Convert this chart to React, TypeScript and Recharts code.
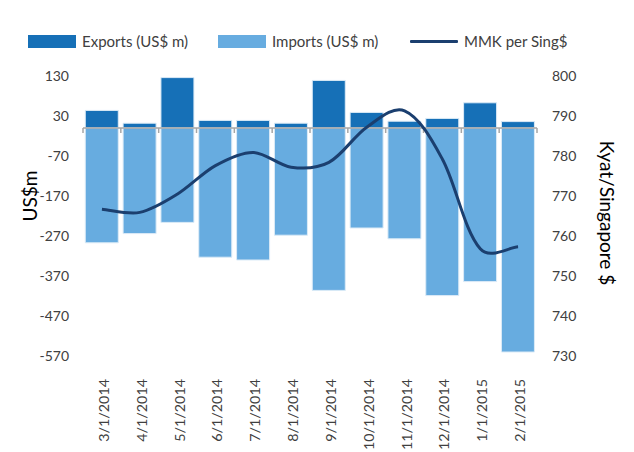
import React from 'react';
import { ComposedChart, Bar, Line, XAxis, YAxis, ReferenceLine } from 'recharts';

const categories = ['3/1/2014', '4/1/2014', '5/1/2014', '6/1/2014', '7/1/2014', '8/1/2014', '9/1/2014', '10/1/2014', '11/1/2014', '12/1/2014', '1/1/2015', '2/1/2015'];
const exportsUS = [44, 12, 126, 19, 19, 12, 119, 39, 17, 24, 63, 16];
const importsUS = [-287, -264, -236, -323, -330, -268, -406, -250, -277, -419, -384, -560];
const mmkPerSgd = [766.7, 765.9, 770.5, 777.6, 780.9, 777.2, 778.4, 787.2, 791.3, 779.2, 756.8, 757.3];
const leftTicks = [-570, -470, -370, -270, -170, -70, 30, 130];
const rightTicks = [730, 740, 750, 760, 770, 780, 790, 800];

const data = categories.map((c, i) => ({
  date: c,
  exports: exportsUS[i],
  imports: importsUS[i],
  mmk: mmkPerSgd[i],
}));

const FONT = 'Lato, "Noto Sans", sans-serif';
const C_EXP = '#1670b7';
const C_IMP = '#67ace0';
const C_LINE = '#1b3f6f';
const TXT = '#404040';

// Spreadsheet-like smoothed line: tangent along neighbours, handle length mixes
// Catmull-Rom length and a length proportional to the segment itself
const smoothCurve: any = (context: any) => {
  let pts: number[][] = [];
  const T = 0.3;
  const tangent = (i: number) => {
    const p0 = pts[i - 1] || pts[i];
    const p2 = pts[i + 1] || pts[i];
    const dx = p2[0] - p0[0];
    const dy = p2[1] - p0[1];
    const len = Math.hypot(dx, dy) || 1;
    return [dx / len, dy / len, len / 6];
  };
  return {
    areaStart() {},
    areaEnd() {},
    lineStart() {
      pts = [];
    },
    point(x: number, y: number) {
      pts.push([+x, +y]);
    },
    lineEnd() {
      const n = pts.length;
      if (n === 0) return;
      context.moveTo(pts[0][0], pts[0][1]);
      for (let i = 0; i < n - 1; i++) {
        const p1 = pts[i];
        const p2 = pts[i + 1];
        const seg = Math.hypot(p2[0] - p1[0], p2[1] - p1[1]);
        const t1 = tangent(i);
        const t2 = tangent(i + 1);
        const h1 = 0.6 * seg * T + 0.4 * t1[2];
        const h2 = 0.6 * seg * T + 0.4 * t2[2];
        context.bezierCurveTo(p1[0] + t1[0] * h1, p1[1] + t1[1] * h1, p2[0] - t2[0] * h2, p2[1] - t2[1] * h2, p2[0], p2[1]);
      }
    },
  };
};

const XTick = (props: any) => {
  const { x, y, payload } = props;
  return (
    <text
      transform={`translate(${x + 2},${y}) rotate(-90)`}
      x={-15}
      y={0}
      dy="0.35em"
      textAnchor="end"
      fontFamily={FONT}
      fontSize={14.3}
      fill={TXT}
    >
      {payload.value}
    </text>
  );
};

const ZeroLine = (props: any) => {
  const { x1, y1, x2, y2 } = props;
  const n = categories.length;
  const marks = [];
  for (let i = 0; i <= n; i++) {
    const xx = x1 + ((x2 - x1) * i) / n;
    marks.push(<line key={i} x1={xx} y1={y1} x2={xx} y2={y1 + 5} stroke="#a6a6a6" strokeWidth={1.5} />);
  }
  return (
    <g>
      <line x1={x1} y1={y1} x2={x2} y2={y2} stroke="#a6a6a6" strokeWidth={1.5} />
      {marks}
    </g>
  );
};

const legendItems = [
  { name: 'Exports (US$ m)', color: C_EXP, kind: 'rect', left: 28 },
  { name: 'Imports (US$ m)', color: C_IMP, kind: 'rect', left: 218 },
  { name: 'MMK per Sing$', color: C_LINE, kind: 'line', left: 410 },
];

export default function App() {
  return (
    <div style={{ position: 'absolute', left: 0, top: 0, width: 634, height: 452, background: '#fff' }}>
      {legendItems.map((it) => (
        <div
          key={it.name}
          style={{ position: 'absolute', left: it.left, top: 31, height: 20, display: 'flex', alignItems: 'center', fontFamily: FONT, fontSize: 15, color: TXT, whiteSpace: 'nowrap' }}
        >
          {it.kind === 'rect' ? (
            <div style={{ width: 48, height: 13, background: it.color }} />
          ) : (
            <div style={{ width: 48, height: 3, background: it.color, borderRadius: 1 }} />
          )}
          <span style={{ marginLeft: 6 }}>{it.name}</span>
        </div>
      ))}
      <ComposedChart
        width={634}
        height={452}
        data={data}
        stackOffset="sign"
        barCategoryGap="6%"
        margin={{ top: 76, right: 0, bottom: 0, left: 0 }}
        style={{ position: 'absolute', left: 0, top: 0 }}
      >
        <XAxis
          dataKey="date"
          xAxisId={0}
          height={96}
          axisLine={false}
          tickLine={false}
          interval={0}
          tick={<XTick />}
        />
        <YAxis
          yAxisId="left"
          orientation="left"
          width={83}
          domain={[-570, 130]}
          ticks={leftTicks}
          interval={0}
          axisLine={false}
          tickLine={false}
          tickMargin={8}
          tick={{ fontFamily: FONT, fontSize: 14, fill: TXT }}
          label={(p: any) => {
            const vb = p.viewBox;
            const cx = vb.x + 30;
            const cy = vb.y + vb.height / 2 - 20;
            return (
              <text x={cx} y={cy} transform={`rotate(-90, ${cx}, ${cy})`} textAnchor="middle" dy="0.35em" fontFamily={FONT} fontSize={19} fill="#000">
                US$m
              </text>
            );
          }}
        />
        <YAxis
          yAxisId="right"
          orientation="right"
          width={97}
          domain={[730, 800]}
          ticks={rightTicks}
          interval={0}
          axisLine={false}
          tickLine={false}
          tickMargin={9}
          tick={{ fontFamily: FONT, fontSize: 14, fill: TXT }}
          label={(p: any) => {
            const vb = p.viewBox;
            const cx = vb.x + 70;
            const cy = vb.y + vb.height / 2 - 3;
            return (
              <text x={cx} y={cy} transform={`rotate(90, ${cx}, ${cy})`} textAnchor="middle" dy="0.35em" fontFamily={FONT} fontSize={19} fill="#000">
                Kyat/Singapore $
              </text>
            );
          }}
        />
        <Bar dataKey="exports" yAxisId="left" stackId="s" fill={C_EXP} stroke="#dcebf7" strokeWidth={1} isAnimationActive={false} />
        <Bar dataKey="imports" yAxisId="left" stackId="s" fill={C_IMP} stroke="#dcebf7" strokeWidth={1} isAnimationActive={false} />
        <ReferenceLine yAxisId="left" y={0} shape={<ZeroLine />} />
        <Line
          dataKey="mmk"
          yAxisId="right"
          type={smoothCurve}
          stroke={C_LINE}
          strokeWidth={3}
          dot={false}
          activeDot={false}
          isAnimationActive={false}
        />
      </ComposedChart>
    </div>
  );
}
